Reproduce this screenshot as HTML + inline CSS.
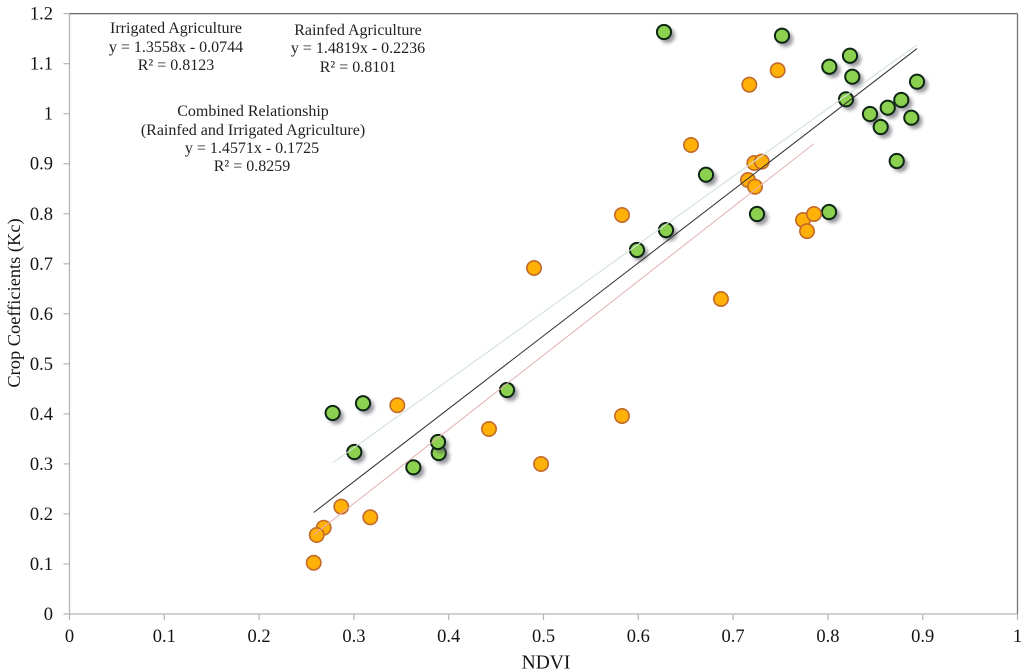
<!DOCTYPE html>
<html lang="en">
<head>
<meta charset="utf-8">
<title>Crop Coefficients vs NDVI</title>
<style>
html,body{margin:0;padding:0;background:#fff;width:1024px;height:672px;overflow:hidden}
svg{display:block;filter:blur(0.35px)}
text{font-family:"Liberation Serif",serif;fill:#141414}
.note{font-size:16px;text-anchor:middle;fill:#222}
.tick{font-size:18.5px}
.title{text-anchor:middle}
</style>
</head>
<body>
<svg id="chart" xmlns="http://www.w3.org/2000/svg" width="1024" height="672" viewBox="0 0 1024 672">
  <defs>
    <filter id="markerShadow" x="-60%" y="-60%" width="240%" height="240%">
      <feGaussianBlur stdDeviation="1.8"/>
    </filter>
  </defs>
  <g id="annotations">
    <text class="note" x="176" y="33">Irrigated Agriculture</text>
    <text class="note" x="176" y="52">y = 1.3558x - 0.0744</text>
    <text class="note" x="176" y="70">R² = 0.8123</text>
    <text class="note" x="358" y="35">Rainfed Agriculture</text>
    <text class="note" x="358" y="53">y = 1.4819x - 0.2236</text>
    <text class="note" x="358" y="72">R² = 0.8101</text>
    <text class="note" x="253" y="116">Combined Relationship</text>
    <text class="note" x="253" y="135">(Rainfed and Irrigated Agriculture)</text>
    <text class="note" x="252" y="153">y = 1.4571x - 0.1725</text>
    <text class="note" x="252" y="171">R² = 0.8259</text>
  </g>
  <text class="title" x="546" y="668.5" style="font-size:19.5px">NDVI</text>
  <text class="title" transform="translate(20 303) rotate(-90)" style="font-size:18.4px">Crop Coefficients (Kc)</text>
</svg>
<script>
const xTicks = [0, 0.1, 0.2, 0.3, 0.4, 0.5, 0.6, 0.7, 0.8, 0.9, 1];
const yTicks = [0, 0.1, 0.2, 0.3, 0.4, 0.5, 0.6, 0.7, 0.8, 0.9, 1, 1.1, 1.2];
const xTickLabels = ['0', '0.1', '0.2', '0.3', '0.4', '0.5', '0.6', '0.7', '0.8', '0.9', '1'];
const yTickLabels = ['0', '0.1', '0.2', '0.3', '0.4', '0.5', '0.6', '0.7', '0.8', '0.9', '1', '1.1', '1.2'];

const irrigatedNdvi = [0.6271, 0.7516, 0.8015, 0.8233, 0.8257, 0.8191, 0.8940, 0.8774, 0.8631, 0.8444, 0.8557, 0.8880, 0.8726, 0.8012, 0.7252, 0.6714, 0.6292, 0.5986, 0.4615, 0.3895, 0.3887, 0.3627, 0.3004, 0.3096, 0.2776];
const irrigatedKc = [1.1633, 1.1559, 1.0939, 1.1159, 1.0740, 1.0288, 1.0640, 1.0274, 1.0120, 0.9994, 0.9734, 0.9920, 0.9055, 0.8035, 0.7995, 0.8781, 0.7673, 0.7276, 0.4477, 0.3218, 0.3438, 0.2932, 0.3238, 0.4212, 0.4018];

const rainfedNdvi = [0.7470, 0.7171, 0.6556, 0.7157, 0.7231, 0.7224, 0.7302, 0.7737, 0.7853, 0.7780, 0.5828, 0.4900, 0.6872, 0.5828, 0.3458, 0.4425, 0.4974, 0.3173, 0.2867, 0.2681, 0.2608, 0.2576];
const rainfedKc = [1.0868, 1.0580, 0.9374, 0.8675, 0.8541, 0.9015, 0.9041, 0.7875, 0.7995, 0.7653, 0.7975, 0.6916, 0.6296, 0.3958, 0.4172, 0.3698, 0.2998, 0.1933, 0.2145, 0.1725, 0.1579, 0.1025];

const fitSlopes = [1.3558, 1.4819, 1.4571];
const fitIntercepts = [-0.0744, -0.2236, -0.1725];

const SVG_NS = 'http://www.w3.org/2000/svg';
const chart = document.getElementById('chart');
const annotations = document.getElementById('annotations');

function xScale(v) { return 69.5 + v * 948; }
function yScale(v) { return 614 - v * 500.3; }

function make(tag, attrs) {
  const el = document.createElementNS(SVG_NS, tag);
  for (const k in attrs) el.setAttribute(k, attrs[k]);
  return el;
}

const axes = make('g', {});


chart.insertBefore(axes, annotations);

const frameTop = make('line', { x1: xScale(0), y1: yScale(1.2), x2: xScale(1), y2: yScale(1.2), stroke: '#666', 'stroke-width': 1.3 });


axes.appendChild(frameTop);

const frameRight = make('line', { x1: xScale(1), y1: yScale(1.2), x2: xScale(1), y2: yScale(0), stroke: '#777', 'stroke-width': 1.3 });


axes.appendChild(frameRight);

const yAxisLine = make('line', { x1: xScale(0), y1: yScale(1.2), x2: xScale(0), y2: yScale(0), stroke: '#b4b4b4', 'stroke-width': 1.3 });


axes.appendChild(yAxisLine);

const xAxisLine = make('line', { x1: xScale(0), y1: yScale(0), x2: xScale(1), y2: yScale(0), stroke: '#b4b4b4', 'stroke-width': 1.3 });


axes.appendChild(xAxisLine);

xTicks.forEach(function (t, i) {
  const mark = make('line', { x1: xScale(t), y1: yScale(0), x2: xScale(t), y2: yScale(0) + 6, stroke: '#b4b4b4', 'stroke-width': 1.2 });
  
  
  axes.appendChild(mark);
  const label = make('text', { class: 'tick', x: xScale(t), y: 642, 'text-anchor': 'middle' });
  
  
  label.textContent = xTickLabels[i];
  axes.appendChild(label);
});

yTicks.forEach(function (t, i) {
  const mark = make('line', { x1: xScale(0) - 6, y1: yScale(t), x2: xScale(0), y2: yScale(t), stroke: '#b4b4b4', 'stroke-width': 1.2 });
  
  
  axes.appendChild(mark);
  const label = make('text', { class: 'tick', x: 53, y: yScale(t) + 6, 'text-anchor': 'end' });
  
  
  label.textContent = yTickLabels[i];
  axes.appendChild(label);
});

const irrigatedGroup = make('g', {});


chart.appendChild(irrigatedGroup);

irrigatedNdvi.forEach(function (x, i) {
  const cx = xScale(x), cy = yScale(irrigatedKc[i]);
  const shadow = make('circle', { cx: cx + 3.5, cy: cy + 3.5, r: 7.6, fill: '#555560', opacity: 0.6, filter: 'url(#markerShadow)' });
  
  
  irrigatedGroup.appendChild(shadow);
  const dot = make('circle', { cx: cx, cy: cy, r: 7.1, fill: '#8cd04f', stroke: '#0e2614', 'stroke-width': 2 });
  
  
  irrigatedGroup.appendChild(dot);
});

const rainfedGroup = make('g', {});


chart.appendChild(rainfedGroup);

rainfedNdvi.forEach(function (x, i) {
  const dot = make('circle', { cx: xScale(x), cy: yScale(rainfedKc[i]), r: 7.2, fill: '#ffb108', stroke: '#c2692c', 'stroke-width': 1.6 });
  
  
  rainfedGroup.appendChild(dot);
});

function fitPath(index, xs, color, width) {
  const x0 = Math.min.apply(null, xs), x1 = Math.max.apply(null, xs);
  const m = fitSlopes[index], b = fitIntercepts[index];
  return make('line', { x1: xScale(x0), y1: yScale(m * x0 + b), x2: xScale(x1), y2: yScale(m * x1 + b), stroke: color, 'stroke-width': width });
}

const irrigatedFit = fitPath(0, irrigatedNdvi, '#d2e3da', 1.1);


chart.appendChild(irrigatedFit);

const rainfedFit = fitPath(1, rainfedNdvi, '#e4b0b0', 1);


chart.appendChild(rainfedFit);

const combinedFit = fitPath(2, irrigatedNdvi.concat(rainfedNdvi), '#333333', 1.05);


chart.appendChild(combinedFit);
</script>
</body>
</html>
